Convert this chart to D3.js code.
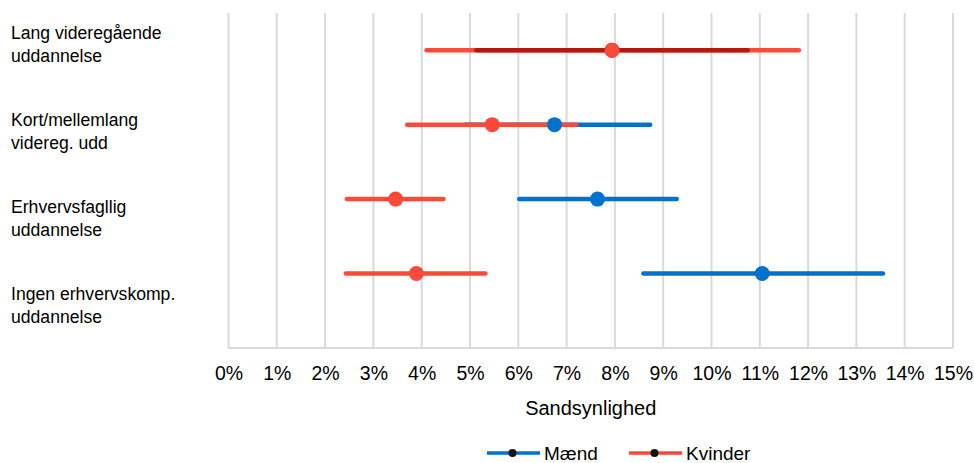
<!DOCTYPE html>
<html><head><meta charset="utf-8">
<script src="https://cdn.jsdelivr.net/npm/d3@7"></script>
<style>body{margin:0;background:#fff}svg{display:block}text{font-family:"Liberation Sans",Arial,sans-serif;fill:#000}</style>
</head><body><svg id="c" width="974" height="463"></svg>
<script>
const categories = [
  ["Lang videregående","uddannelse"],
  ["Kort/mellemlang","videreg. udd"],
  ["Erhvervsfagllig","uddannelse"],
  ["Ingen erhvervskomp.","uddannelse"]
];
const rowPos = [4, 3, 2, 1];
const maendLow  = [5.13, 4.9, 6.02, 8.59];
const maendMid  = [7.94, 6.75, 7.64, 11.05];
const maendHigh = [10.75, 8.73, 9.28, 13.55];
const kvinderLow  = [4.1, 3.7, 2.45, 2.43];
const kvinderMid  = [7.94, 5.46, 3.46, 3.89];
const kvinderHigh = [11.81, 7.2, 4.45, 5.32];
const xTicks = d3.range(0, 16);
const seriesNames = ["Mænd", "Kvinder"];
const colBlue = "#0071ce", colRed = "#fb4a3a", colDark = "#b3190c";

const svg = d3.select("#c");
const x = d3.scaleLinear().domain([0, 15]).range([228.5, 953]);
const y = d3.scaleLinear().domain([0, 4.5]).range([348, 13]);
const band = d3.scaleBand().domain(d3.range(4)).range([0, 348]);

// grid
svg.append("g").selectAll("line").data(xTicks).join("line")
  .attr("x1", d => x(d)).attr("x2", d => x(d)).attr("y1", y(4.5)).attr("y2", y(0))
  .attr("stroke", "#d9d9d9").attr("stroke-width", 2);
svg.append("line").attr("x1", x(0)).attr("x2", x(15)).attr("y1", y(0)).attr("y2", y(0))
  .attr("stroke", "#d9d9d9").attr("stroke-width", 2);

// x axis labels
const ax = svg.append("g").attr("transform", `translate(0,${y(0)})`)
  .call(d3.axisBottom(x).tickValues(xTicks).tickFormat(d => d + "%").tickSize(0).tickPadding(18));
ax.select(".domain").remove();
ax.selectAll("text").style("font-size", "19.5px").style("font-family", '"Liberation Sans",Arial,sans-serif').attr("fill", "#000");

svg.append("text").attr("x", (x(0) + x(15)) / 2).attr("y", 415).attr("text-anchor", "middle")
  .style("font-size", "20px").text("Sandsynlighed");

// category labels
categories.forEach((c, i) => {
  const cy = band(i) + band.bandwidth() / 2;
  const t = svg.append("text").attr("x", 11).style("font-size", "17.6px");
  t.append("tspan").attr("x", 11).attr("y", cy - 5).text(c[0]);
  t.append("tspan").attr("x", 11).attr("y", cy + 18.5).text(c[1]);
});

const rows = d3.range(4);
const lw = 4.5;
// men lines (rows 2-4)
svg.append("g").selectAll("line").data(rows.filter(i => i > 0)).join("line")
  .attr("x1", i => x(maendLow[i])).attr("x2", i => x(maendHigh[i]))
  .attr("y1", i => y(rowPos[i])).attr("y2", i => y(rowPos[i]))
  .attr("stroke", colBlue).attr("stroke-width", lw).attr("stroke-linecap", "round");
// women lines
svg.append("g").selectAll("line").data(rows).join("line")
  .attr("x1", i => x(kvinderLow[i])).attr("x2", i => x(kvinderHigh[i]))
  .attr("y1", i => y(rowPos[i])).attr("y2", i => y(rowPos[i]))
  .attr("stroke", colRed).attr("stroke-width", lw).attr("stroke-linecap", "round");
// men row 1 (dark)
svg.append("g").selectAll("line").data([0]).join("line")
  .attr("x1", i => x(maendLow[i])).attr("x2", i => x(maendHigh[i]))
  .attr("y1", i => y(rowPos[i])).attr("y2", i => y(rowPos[i]))
  .attr("stroke", colDark).attr("stroke-width", lw).attr("stroke-linecap", "round");
// dots
svg.append("g").selectAll("circle").data(rows).join("circle")
  .attr("cx", i => x(maendMid[i])).attr("cy", i => y(rowPos[i])).attr("r", 7.5)
  .attr("fill", i => i === 0 ? colDark : colBlue);
svg.append("g").selectAll("circle").data(rows).join("circle")
  .attr("cx", i => x(kvinderMid[i])).attr("cy", i => y(rowPos[i])).attr("r", 7.5)
  .attr("fill", colRed);

// legend
const leg = [{n: seriesNames[0], c: colBlue, x: 487}, {n: seriesNames[1], c: colRed, x: 629}];
const lg = svg.append("g").selectAll("g").data(leg).join("g").attr("transform", d => `translate(${d.x},453)`);
lg.append("line").attr("x1", 0).attr("x2", 53).attr("stroke", d => d.c).attr("stroke-width", 3.5);
lg.append("circle").attr("cx", 25.5).attr("r", 4).attr("fill", "#111");
lg.append("text").attr("x", 57).attr("y", 0).attr("dy", "0.35em").style("font-size", "19px").text(d => d.n);
</script></body></html>
